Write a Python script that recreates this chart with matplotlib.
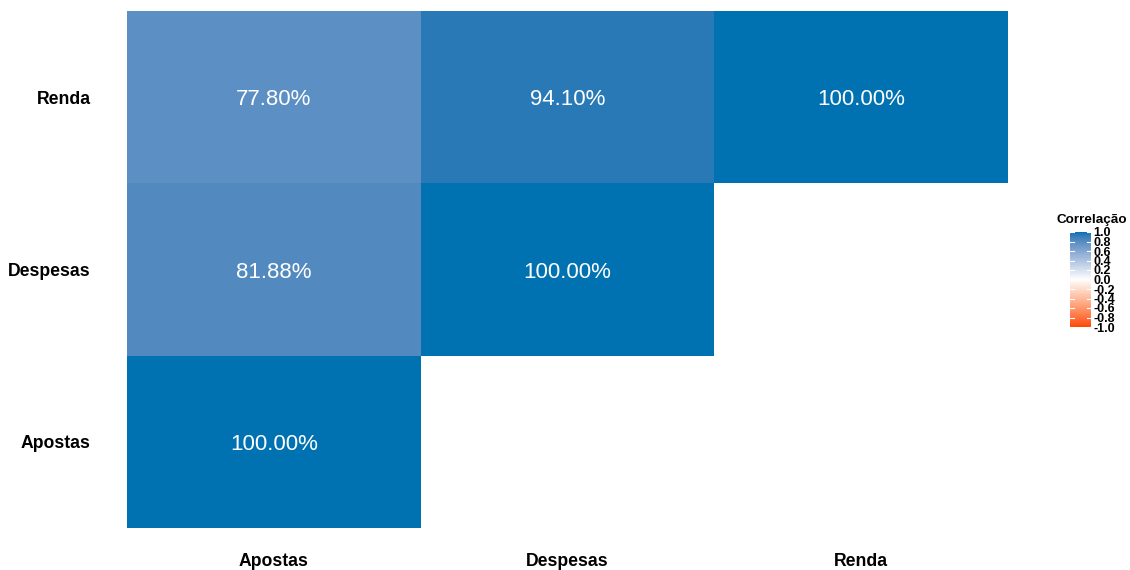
import numpy as np
import matplotlib
matplotlib.use("Agg")
import matplotlib.pyplot as plt
from matplotlib.colors import ListedColormap, Normalize, to_rgb

plt.rcParams['font.family'] = ['Liberation Sans', 'DejaVu Sans']

variables = ["Apostas", "Despesas", "Renda"]
# lower-triangle correlation values (row = y variable, col = x variable)
corr_apostas = [1.0, None, None]
corr_despesas = [0.8188, 1.0, None]
corr_renda = [0.778, 0.941, 1.0]
legend_ticks = [-1.0, -0.8, -0.6, -0.4, -0.2, 0.0, 0.2, 0.4, 0.6, 0.8, 1.0]

low_col, mid_col, high_col = "#FF4500", "#FFFFFF", "#0072B2"


def srgb_to_lab(c):
    c = np.asarray(c, float)
    lin = np.where(c <= 0.04045, c / 12.92, ((c + 0.055) / 1.055) ** 2.4)
    M = np.array([[0.4124, 0.3576, 0.1805], [0.2126, 0.7152, 0.0722], [0.0193, 0.1192, 0.9505]])
    xyz = M @ lin
    wp = np.array([0.95047, 1.0, 1.08883])
    t = xyz / wp
    f = np.where(t > (6 / 29) ** 3, np.cbrt(t), t / (3 * (6 / 29) ** 2) + 4 / 29)
    return np.array([116 * f[1] - 16, 500 * (f[0] - f[1]), 200 * (f[1] - f[2])])


def lab_to_srgb(lab):
    L, a, b = lab
    fy = (L + 16) / 116
    fx = fy + a / 500
    fz = fy - b / 200
    f = np.array([fx, fy, fz])
    t = np.where(f > 6 / 29, f ** 3, 3 * (6 / 29) ** 2 * (f - 4 / 29))
    xyz = t * np.array([0.95047, 1.0, 1.08883])
    Minv = np.array([[3.2406, -1.5372, -0.4986], [-0.9689, 1.8758, 0.0415], [0.0557, -0.2040, 1.0570]])
    lin = Minv @ xyz
    lin = np.clip(lin, 0, 1)
    c = np.where(lin <= 0.0031308, 12.92 * lin, 1.055 * lin ** (1 / 2.4) - 0.055)
    return np.clip(c, 0, 1)


lab_low, lab_mid, lab_high = [srgb_to_lab(to_rgb(c)) for c in (low_col, mid_col, high_col)]
cols = []
N = 256
for v in np.linspace(-1, 1, N):
    if v < 0:
        lab = lab_mid + (lab_low - lab_mid) * (-v)
    else:
        lab = lab_mid + (lab_high - lab_mid) * v
    cols.append(lab_to_srgb(lab))
cmap = ListedColormap(cols)
norm = Normalize(-1, 1)

fig = plt.figure(figsize=(11.3, 5.7), dpi=100)
ax = fig.add_axes([127 / 1130, 42 / 570, 881 / 1130, 517 / 570])

rows = [corr_apostas, corr_despesas, corr_renda]
for yi, row in enumerate(rows):
    for xi, v in enumerate(row):
        if v is None:
            continue
        ax.add_patch(plt.Rectangle((xi - 0.5, yi - 0.5), 1, 1, facecolor=cmap(norm(v)),
                                   edgecolor='none'))
        ax.text(xi, yi, f"{v * 100:.2f}%", ha='center', va='center_baseline', color='white',
                fontsize=16)

ax.set_xlim(-0.5, 2.5)
ax.set_ylim(-0.5, 2.5)
ax.set_xticks(range(3))
ax.set_yticks(range(3))
ax.set_xticklabels(variables, fontsize=12.7, fontweight='bold')
ax.set_yticklabels(variables, fontsize=12.7, fontweight='bold', va='center_baseline')
ax.tick_params(length=0)
ax.tick_params(axis='x', pad=18)
ax.tick_params(axis='y', pad=26)
for s in ax.spines.values():
    s.set_visible(False)

# legend colorbar
cax = fig.add_axes([1070 / 1130, (570 - 327) / 570, 21 / 1130, 95 / 570])
grad = np.linspace(-1, 1, 256).reshape(-1, 1)
cax.imshow(grad, aspect='auto', cmap=cmap, norm=norm, origin='lower', extent=[0, 1, -1, 1])
for t in legend_ticks:
    cax.plot([0, 0.2], [t, t], color='white', lw=0.8)
    cax.plot([0.8, 1], [t, t], color='white', lw=0.8)
cax.set_xlim(0, 1)
cax.set_ylim(-1, 1)
cax.set_xticks([])
cax.yaxis.tick_right()
cax.set_yticks(legend_ticks)
cax.set_yticklabels([f"{t:.1f}" for t in legend_ticks], fontsize=9, fontweight='bold')
cax.tick_params(axis='y', length=0, pad=1.5)
for s in cax.spines.values():
    s.set_visible(False)
fig.text(1092 / 1130, (570 - 220) / 570, "Correlação", ha='center', va='center',
         fontsize=9.7, fontweight='bold')

fig.savefig("out.png", dpi=100)
